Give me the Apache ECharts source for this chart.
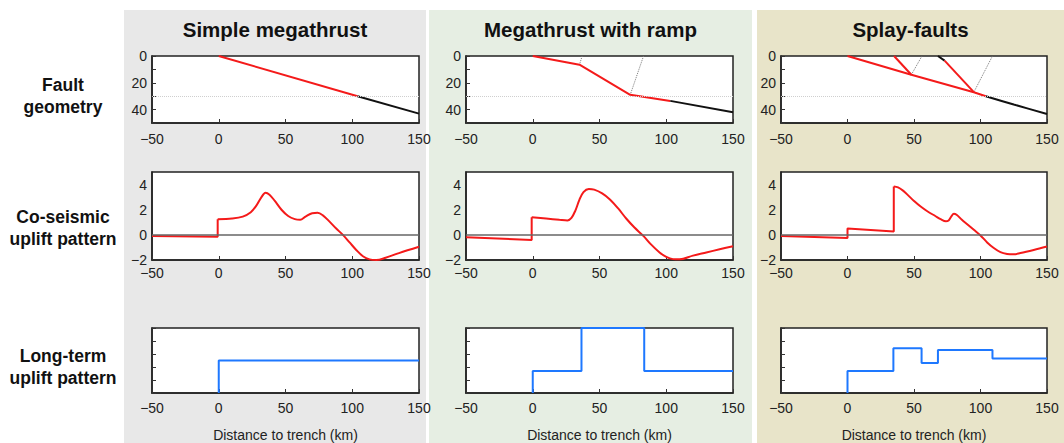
<!DOCTYPE html>
<html><head><meta charset="utf-8">
<script src="https://cdn.jsdelivr.net/npm/echarts@6/dist/echarts.min.js"></script>
<style>html,body{margin:0;padding:0;background:#fff}#c{width:1064px;height:443px}</style>
</head><body><div id="c"></div>
<script>
// ---- text ----
const columnTitles = ['Simple megathrust', 'Megathrust with ramp', 'Splay-faults'];
const rowLabels = ['Fault\ngeometry', 'Co-seismic\nuplift pattern', 'Long-term\nuplift pattern'];
const xAxisTitle = 'Distance to trench (km)';

// ---- fault geometry (distance km, depth km) ----
const simpleFaultRed = [[0, 0], [104, 30]];
const simpleFaultBlack = [[104, 30], [150, 43]];
const rampFaultRed = [[0, 0], [35, 6.5], [73, 29], [103, 33.5]];
const rampFaultBlack = [[103, 33.5], [150, 42]];
const rampDotted1 = [[35, 6.5], [37, 0]];
const rampDotted2 = [[73, 29], [83, 0]];
const splayMainRed = [[0, 0], [48, 14], [95, 27], [104, 30]];
const splayMainBlack = [[104, 30], [125, 36.2], [150, 43.3]];
const splayBranch1Red = [[35, 0], [48, 14]];
const splayBranch2Black = [[68, 0], [73, 3.5]];
const splayBranch2Red = [[73, 3.5], [95, 27]];
const splayDotted1 = [[48, 14], [56, 0]];
const splayDotted2 = [[95, 27], [109, 0]];
const depthRefLine = 30;

// ---- co-seismic uplift (distance km, uplift m) ----
const simpleCoLeft = [[-50, -0.1], [-0.8, -0.15], [-0.8, 1.25]];
const simpleCoRight = [[-0.8, 1.25], [10, 1.3], [18, 1.45], [24, 1.8], [28, 2.3], [32, 3.0], [35, 3.35], [38, 3.2], [42, 2.7], [47, 2.0], [52, 1.5], [57, 1.25], [61, 1.2], [65, 1.45], [70, 1.72], [74, 1.75], [78, 1.55], [83, 1.05], [88, 0.5], [93, 0], [98, -0.6], [103, -1.2], [108, -1.7], [113, -1.95], [118, -2.0], [125, -1.82], [135, -1.45], [150, -0.95]];
const rampCoLeft = [[-50, -0.2], [-0.8, -0.4], [-0.8, 1.4]];
const rampCoRight = [[-0.8, 1.4], [10, 1.3], [20, 1.2], [26, 1.15], [29, 1.35], [32, 1.95], [35, 2.8], [38, 3.4], [42, 3.65], [46, 3.6], [52, 3.3], [58, 2.8], [64, 2.1], [70, 1.3], [76, 0.6], [83, -0.1], [88, -0.7], [95, -1.4], [100, -1.75], [105, -1.93], [110, -1.95], [120, -1.65], [130, -1.4], [140, -1.15], [150, -0.9]];
const splayCoLeft = [[-50, -0.1], [0, -0.25], [0, 0.5], [34.8, 0.27], [34.8, 3.85]];
const splayCoRight = [[34.8, 3.85], [38, 3.78], [42, 3.5], [46, 3.1], [50, 2.7], [55, 2.25], [60, 1.88], [66, 1.5], [70, 1.25], [74, 1.08], [76, 1.15], [78, 1.45], [80, 1.68], [82, 1.6], [86, 1.2], [90, 0.85], [95, 0.4], [100, -0.05], [105, -0.6], [110, -1.05], [115, -1.38], [120, -1.52], [125, -1.55], [130, -1.45], [140, -1.2], [150, -0.93]];
const zeroLine = 0;

// ---- long-term uplift (distance km, relative uplift) ----
const simpleLongTerm = [[0, 0], [0, 2.5], [150, 2.5]];
const rampLongTerm = [[0, 0], [0, 1.7], [36.5, 1.7], [36.5, 5], [83.5, 5], [83.5, 1.7], [150, 1.7]];
const splayLongTerm = [[0, 0], [0, 1.7], [34.5, 1.7], [34.5, 3.45], [55.7, 3.45], [55.7, 2.3], [68, 2.3], [68, 3.3], [109, 3.3], [109, 2.65], [150, 2.65]];

// ---- layout ----
const FONT = 'Liberation Sans, Arial, Helvetica, sans-serif';
const RED = '#f41a1a', BLACK = '#111', BLUE = '#1e78ff', GREY = '#7a7a7a';
const cols = [{ left: 152, width: 267 }, { left: 466, width: 267 }, { left: 781, width: 266 }];
const rows = [{ top: 56, height: 67 }, { top: 172, height: 88 }, { top: 328, height: 65 }];
const bgs = [{ x: 124, w: 302, c: '#e8e8e8' }, { x: 429, w: 323, c: '#e6eee3' }, { x: 757, w: 307, c: '#e8e4c9' }];

const minus = v => (v < 0 ? '\u2212' + Math.abs(v) : String(v));

const grid = [], xAxis = [], yAxis = [], series = [];
rows.forEach((r, ri) => cols.forEach((c, ci) => {
  const gi = grid.length;
  grid.push({ left: c.left, top: r.top, width: c.width, height: r.height, show: true, backgroundColor: '#fff', borderColor: '#222', borderWidth: 1.5 });
  xAxis.push({
    gridIndex: gi, type: 'value', min: -50, max: 150, interval: 50,
    axisLine: { onZero: false, lineStyle: { color: '#222', width: 1.5 } },
    axisTick: { inside: true, length: 4, lineStyle: { color: '#333' } },
    splitLine: { show: false },
    axisLabel: { formatter: minus, fontSize: 14, lineHeight: 14, color: '#222', fontFamily: FONT, margin: ri === 1 ? 6 : (ri === 0 ? 9 : 8) },
    name: ri === 2 ? xAxisTitle : '', nameLocation: 'middle', nameGap: 35,
    nameTextStyle: { fontSize: 14, color: '#222', fontFamily: FONT }
  });
  const y = { gridIndex: gi, type: 'value', axisLine: { show: true, onZero: false, lineStyle: { color: '#222', width: 1.5 } }, splitLine: { show: false },
    axisLabel: { fontSize: 14, lineHeight: 14, color: '#222', fontFamily: FONT, margin: 5 } };
  if (ri === 0) {
    Object.assign(y, { inverse: true, min: 0, max: 50, interval: 10 });
    y.axisLabel.formatter = v => (v % 20 === 0 && v <= 40 ? String(v) : '');
    y.axisTick = { inside: true, length: 4, lineStyle: { color: '#333' } };
  } else if (ri === 1) {
    Object.assign(y, { min: -2, max: 5, interval: 2 });
    y.axisLabel.formatter = v => (v > 4 ? '' : minus(v));
    y.axisTick = { show: false };
  } else {
    Object.assign(y, { min: 0, max: 5, interval: 1 });
    y.axisLabel = { show: false };
    y.axisTick = { inside: true, length: 4, lineStyle: { color: '#333' } };
  }
  yAxis.push(y);
}));

function line(gi, data, color, opts) {
  const o = Object.assign({ width: 2, type: 'solid', smooth: false, z: 3 }, opts || {});
  return { type: 'line', xAxisIndex: gi, yAxisIndex: gi, data: data, showSymbol: false, symbol: 'none', smooth: o.smooth,
    clip: false, silent: true, animation: false, z: o.z,
    lineStyle: { color: color, width: o.width, type: o.type } };
}
function refLine(gi, val, color, type, width) {
  return { type: 'line', xAxisIndex: gi, yAxisIndex: gi, data: [], silent: true, animation: false, z: 2,
    markLine: { symbol: 'none', silent: true, animation: false, label: { show: false },
      lineStyle: { color: color, type: type, width: width }, data: [{ yAxis: val }] } };
}

// row 1: fault geometry
[0, 1, 2].forEach(gi => series.push(refLine(gi, depthRefLine, '#cfcfcf', 'dotted', 1)));
series.push(line(0, simpleFaultRed, RED), line(0, simpleFaultBlack, BLACK));
series.push(line(1, rampDotted1, GREY, { width: 1, type: 'dotted' }), line(1, rampDotted2, GREY, { width: 1, type: 'dotted' }));
series.push(line(1, rampFaultRed, RED), line(1, rampFaultBlack, BLACK));
series.push(line(2, splayDotted1, GREY, { width: 1, type: 'dotted' }), line(2, splayDotted2, GREY, { width: 1, type: 'dotted' }));
series.push(line(2, splayMainRed, RED), line(2, splayMainBlack, BLACK, { smooth: 0.3 }));
series.push(line(2, splayBranch1Red, RED), line(2, splayBranch2Black, BLACK), line(2, splayBranch2Red, RED));

// row 2: co-seismic uplift
[3, 4, 5].forEach(gi => series.push(refLine(gi, zeroLine, '#666', 'solid', 1.5)));
series.push(line(3, simpleCoLeft, RED), line(3, simpleCoRight, RED, { smooth: 0.35 }));
series.push(line(4, rampCoLeft, RED), line(4, rampCoRight, RED, { smooth: 0.35 }));
series.push(line(5, splayCoLeft, RED), line(5, splayCoRight, RED, { smooth: 0.35 }));

// row 3: long-term uplift
series.push(line(6, simpleLongTerm, BLUE), line(7, rampLongTerm, BLUE), line(8, splayLongTerm, BLUE));

const graphic = [];
bgs.forEach(b => graphic.push({ type: 'rect', z: -100, silent: true, shape: { x: b.x, y: 10, width: b.w, height: 433 }, style: { fill: b.c } }));
columnTitles.forEach((t, i) => graphic.push({ type: 'text', z: 10, silent: true, x: bgs[i].x + bgs[i].w / 2, y: 29,
  style: { text: t, fontSize: 20.5, fontWeight: 'bold', fontFamily: FONT, fill: '#111', textAlign: 'center', textVerticalAlign: 'middle', align: 'center', verticalAlign: 'middle' } }));
const rowCenters = [96, 228, 367];
rowLabels.forEach((t, i) => graphic.push({ type: 'text', z: 10, silent: true, x: 63, y: rowCenters[i],
  style: { text: t, fontSize: 17.5, fontWeight: 'bold', fontFamily: FONT, fill: '#111', lineHeight: 22, textAlign: 'center', textVerticalAlign: 'middle', align: 'center', verticalAlign: 'middle' } }));

const chart = echarts.init(document.getElementById('c'), null, { renderer: 'svg', width: 1064, height: 443 });
chart.setOption({ animation: false, backgroundColor: '#fff', grid, xAxis, yAxis, series, graphic });
</script></body></html>
